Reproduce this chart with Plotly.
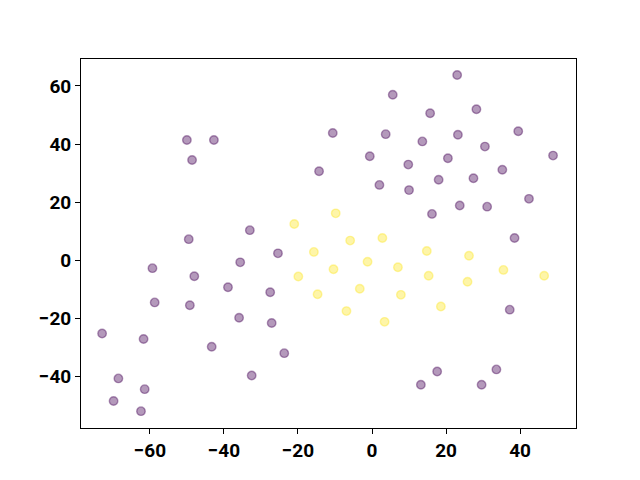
import plotly.graph_objects as go

purple_x = [-50.0, -42.7, -48.6, -49.5, 5.6, -10.6, 3.7, -0.6, 9.8, -14.3, 2.0, 10.0, -33.0,
            23.0, 15.7, 28.2, 39.5, 13.6, 23.2, 30.5, 20.5, 48.9, 35.2, 18.0, 27.4, 42.4, 23.7,
            31.1, 16.2, 38.5,
            -59.3, -35.6, -48.0, -38.9, -58.7, -49.2, -35.9, -72.9, -61.7, -43.3, -68.5, -61.4,
            -69.8, -62.4,
            -25.4, -27.5, -27.1, -23.7, -32.5,
            37.2, 17.6, 33.6, 13.2, 29.6]
purple_y = [41.4, 41.4, 34.5, 7.2, 57.0, 43.8, 43.4, 35.8, 32.9, 30.6, 25.9, 24.1, 10.3,
            63.8, 50.6, 52.0, 44.4, 40.9, 43.2, 39.1, 35.1, 36.0, 31.1, 27.7, 28.2, 21.1, 18.8,
            18.4, 15.9, 7.6,
            -2.8, -0.8, -5.6, -9.4, -14.6, -15.6, -19.9, -25.3, -27.2, -29.9, -40.8, -44.5,
            -48.6, -52.1,
            2.3, -11.1, -21.7, -32.1, -39.8,
            -17.1, -38.4, -37.7, -43.0, -43.0]

yellow_x = [-9.8, -21.0, -5.9, 2.8, -15.7, -1.2, -10.4, 7.0, -19.9, -14.7, -3.3, 7.8, -6.9, 3.4,
            14.8, 26.2, 15.3, 25.8, 35.5, 46.5, 18.6]
yellow_y = [16.1, 12.4, 6.7, 7.6, 2.8, -0.6, -3.2, -2.5, -5.7, -11.8, -9.9, -12.0, -17.6, -21.3,
            3.1, 1.5, -5.4, -7.5, -3.4, -5.4, -16.0]

x_ticks = [-60, -40, -20, 0, 20, 40]
y_ticks = [-40, -20, 0, 20, 40, 60]

fig = go.Figure()
for xs, ys, rgb in [(purple_x, purple_y, "68,1,84"), (yellow_x, yellow_y, "253,231,37")]:
    fig.add_trace(go.Scatter(
        x=xs, y=ys, mode="markers",
        marker=dict(size=8.5, color=f"rgba({rgb},0.4)",
                    line=dict(color=f"rgba({rgb},0.4)", width=1.4)),
        showlegend=False, hoverinfo="skip"))

axis_common = dict(showgrid=False, zeroline=False, showline=True, linecolor="black",
                   linewidth=1, mirror=True, ticks="outside", ticklen=5, tickwidth=1,
                   tickcolor="black", automargin=False,
                   tickfont=dict(family="Roboto", size=19, color="black", weight="bold"))

fig.update_layout(
    width=640, height=480,
    margin=dict(l=73, r=72, t=51, b=60),
    plot_bgcolor="white", paper_bgcolor="white",
    xaxis=dict(range=[-78.6, 55.1], tickvals=x_ticks, **axis_common),
    yaxis=dict(range=[-57.9, 69.3], tickvals=y_ticks, **axis_common),
)

fig.write_html("out.html")
